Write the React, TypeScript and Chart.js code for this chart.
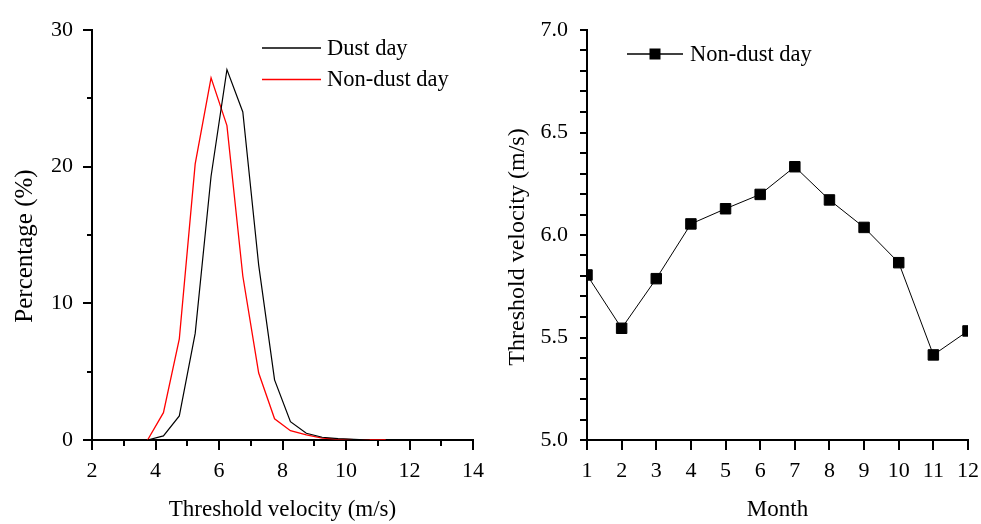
import React, { useEffect, useRef } from 'react';
import { Chart, registerables } from 'chart.js';

Chart.register(...registerables);
const FONT_FAMILY = "'Liberation Serif', 'Times New Roman', serif";
Chart.defaults.font.family = FONT_FAMILY;
Chart.defaults.font.size = 22;
Chart.defaults.color = '#000';

// ---- Data: left panel (distribution of threshold velocity) ----
const velocityBins = [3.75, 4.25, 4.75, 5.25, 5.75, 6.25, 6.75, 7.25, 7.75, 8.25, 8.75, 9.25, 9.75, 10.25, 10.75, 11.25];
const dustDayPct = [0, 0.3, 1.76, 7.8, 19.3, 27.1, 24.0, 12.8, 4.4, 1.34, 0.49, 0.2, 0.1, 0.05, 0, null];
const nonDustDayPct = [0, 2.0, 7.4, 20.2, 26.5, 23.0, 12.0, 4.9, 1.55, 0.68, 0.37, 0.13, 0.06, 0.03, 0.01, 0];

// ---- Data: right panel (monthly threshold velocity) ----
const months = [1, 2, 3, 4, 5, 6, 7, 8, 9, 10, 11, 12];
const monthlyThreshold = [5.805, 5.545, 5.787, 6.054, 6.128, 6.198, 6.333, 6.171, 6.037, 5.865, 5.415, 5.532];

const leftLabels = { x: 'Threshold velocity (m/s)', y: 'Percentage (%)' };
const rightLabels = { x: 'Month', y: 'Threshold velocity (m/s)' };
const seriesNames = ['Dust day', 'Non-dust day'];
const seriesColors = ['#000000', '#ff0000'];

type TickCfg = { isMajor: (v: number) => boolean; major: number; minor: number };

function makeTickPlugin(cfg: { x: TickCfg; y: TickCfg }) {
  return {
    id: 'tickMarks',
    afterDraw(chart: any) {
      const ctx = chart.ctx;
      const area = chart.chartArea;
      ctx.save();
      ctx.strokeStyle = '#000';
      ctx.lineWidth = 2;
      (['x', 'y'] as const).forEach((axis) => {
        const scale = chart.scales[axis];
        const c = cfg[axis];
        scale.ticks.forEach((t: any) => {
          const p = Math.round(scale.getPixelForValue(t.value));
          const len = c.isMajor(t.value) ? c.major : c.minor;
          ctx.beginPath();
          if (axis === 'x') {
            ctx.moveTo(p, area.bottom);
            ctx.lineTo(p, area.bottom + len);
          } else {
            ctx.moveTo(area.left, p);
            ctx.lineTo(area.left - len, p);
          }
          ctx.stroke();
        });
      });
      ctx.restore();
    },
  };
}

function makeYTitlePlugin(text: string, x: number, dy: number, size: number) {
  return {
    id: 'yTitle',
    afterDraw(chart: any) {
      const ctx = chart.ctx;
      const area = chart.chartArea;
      ctx.save();
      ctx.translate(x, (area.top + area.bottom) / 2 + dy);
      ctx.rotate(-Math.PI / 2);
      ctx.fillStyle = '#000';
      ctx.font = `${size}px ${FONT_FAMILY}`;
      ctx.textAlign = 'center';
      ctx.textBaseline = 'middle';
      ctx.fillText(text, 0, 0);
      ctx.restore();
    },
  };
}

function makeLegendPlugin(pos: { x1: number; x2: number; tx: number; y: number; dy: number; marker: boolean }, colors: string[]) {
  return {
    id: 'customLegend',
    afterDraw(chart: any) {
      const ctx = chart.ctx;
      ctx.save();
      chart.data.datasets.forEach((ds: any, i: number) => {
        const y = pos.y + i * pos.dy;
        ctx.strokeStyle = colors[i];
        ctx.lineWidth = 1.4;
        ctx.beginPath();
        ctx.moveTo(pos.x1, y);
        ctx.lineTo(pos.x2, y);
        ctx.stroke();
        if (pos.marker) {
          const cx = (pos.x1 + pos.x2) / 2;
          const s = 11;
          ctx.fillStyle = colors[i];
          ctx.fillRect(cx - s / 2, y - s / 2, s, s);
        }
        ctx.fillStyle = '#000';
        ctx.font = `22.5px ${FONT_FAMILY}`;
        ctx.textBaseline = 'middle';
        ctx.textAlign = 'left';
        ctx.fillText(ds.label, pos.tx, y + 1);
      });
      ctx.restore();
    },
  };
}

const near = (a: number, b: number) => Math.abs(a - b) < 1e-6;
const zeroPadX = (s: any) => { s.height = 84; s.paddingLeft = 0; s.paddingRight = 0; };

function leftConfig(): any {
  return {
    type: 'line',
    data: {
      datasets: [
        {
          label: seriesNames[0],
          data: velocityBins.map((v, i) => ({ x: v, y: dustDayPct[i] })),
          borderColor: seriesColors[0],
          borderWidth: 1.2,
          pointRadius: 0,
          tension: 0,
          spanGaps: false,
        },
        {
          label: seriesNames[1],
          data: velocityBins.map((v, i) => ({ x: v, y: nonDustDayPct[i] })),
          borderColor: seriesColors[1],
          borderWidth: 1.3,
          pointRadius: 0,
          tension: 0,
        },
      ],
    },
    options: {
      responsive: false,
      animation: false,
      layout: { padding: { top: 30, right: 17, left: 0, bottom: 0 } },
      plugins: { legend: { display: false }, tooltip: { enabled: false } },
      scales: {
        x: {
          type: 'linear',
          min: 2,
          max: 14,
          grid: { display: false, drawTicks: false },
          border: { display: true, color: '#000', width: 2 },
          ticks: {
            stepSize: 1,
            autoSkip: false,
            maxRotation: 0,
            padding: 18,
            callback: (v: number) => (near(v % 2, 0) ? String(v) : ''),
          },
          title: { display: true, text: leftLabels.x, font: { size: 23 }, padding: { top: 0, bottom: 0 } },
          afterFit: zeroPadX,
        },
        y: {
          type: 'linear',
          min: 0,
          max: 30,
          grid: { display: false, drawTicks: false },
          border: { display: true, color: '#000', width: 2 },
          ticks: {
            stepSize: 5,
            autoSkip: false,
            padding: 19,
            callback: (v: number) => (near(v % 10, 0) ? String(v) : ''),
          },
          title: { display: false },
          afterFit: (s: any) => { s.width = 92; s.paddingTop = 0; s.paddingBottom = 0; },
        },
      },
    },
    plugins: [
      makeTickPlugin({
        x: { isMajor: (v) => near(v % 2, 0), major: 10, minor: 6 },
        y: { isMajor: (v) => near(v % 10, 0), major: 9, minor: 5 },
      }),
      makeYTitlePlugin(leftLabels.y, 25, 11, 25),
      makeLegendPlugin({ x1: 262, x2: 321, tx: 327, y: 48, dy: 31.5, marker: false }, seriesColors),
    ],
  };
}

function rightConfig(): any {
  return {
    type: 'line',
    data: {
      datasets: [
        {
          label: seriesNames[1],
          data: months.map((m, i) => ({ x: m, y: monthlyThreshold[i] })),
          borderColor: '#000000',
          borderWidth: 1,
          pointStyle: 'rect',
          pointRadius: 7.4,
          pointBackgroundColor: '#000000',
          pointBorderColor: '#000000',
          pointBorderWidth: 1,
          tension: 0,
        },
      ],
    },
    options: {
      responsive: false,
      animation: false,
      layout: { padding: { top: 30, right: 13, left: 0, bottom: 0 } },
      plugins: { legend: { display: false }, tooltip: { enabled: false } },
      scales: {
        x: {
          type: 'linear',
          min: 1,
          max: 12,
          grid: { display: false, drawTicks: false },
          border: { display: true, color: '#000', width: 2 },
          ticks: { stepSize: 1, autoSkip: false, maxRotation: 0, padding: 18 },
          title: { display: true, text: rightLabels.x, font: { size: 23 }, padding: { top: 0, bottom: 0 } },
          afterFit: zeroPadX,
        },
        y: {
          type: 'linear',
          min: 5,
          max: 7,
          grid: { display: false, drawTicks: false },
          border: { display: true, color: '#000', width: 2 },
          ticks: {
            stepSize: 0.1,
            maxTicksLimit: 100,
            autoSkip: false,
            padding: 19,
            callback: (v: number) => (near(v * 2, Math.round(v * 2)) ? v.toFixed(1) : ''),
          },
          title: { display: false },
          afterFit: (s: any) => { s.width = 97; s.paddingTop = 0; s.paddingBottom = 0; },
        },
      },
    },
    plugins: [
      makeTickPlugin({
        x: { isMajor: () => true, major: 10, minor: 10 },
        y: { isMajor: () => true, major: 7, minor: 7 },
      }),
      makeYTitlePlugin(rightLabels.y, 28, 12, 24),
      makeLegendPlugin({ x1: 137, x2: 193, tx: 200, y: 54, dy: 31, marker: true }, ['#000000']),
    ],
  };
}

function ChartCanvas({ build, width, height }: { build: () => any; width: number; height: number }) {
  const ref = useRef<HTMLCanvasElement>(null);
  useEffect(() => {
    const chart = new Chart(ref.current as HTMLCanvasElement, build());
    return () => chart.destroy();
  }, []);
  return <canvas ref={ref} width={width} height={height} style={{ width, height, display: 'block' }} />;
}

export default function App() {
  return (
    <div
      style={{
        position: 'absolute',
        left: 0,
        top: 0,
        width: 981,
        height: 524,
        display: 'flex',
        background: '#ffffff',
        overflow: 'hidden',
      }}
    >
      <ChartCanvas build={leftConfig} width={490} height={524} />
      <ChartCanvas build={rightConfig} width={491} height={524} />
    </div>
  );
}
